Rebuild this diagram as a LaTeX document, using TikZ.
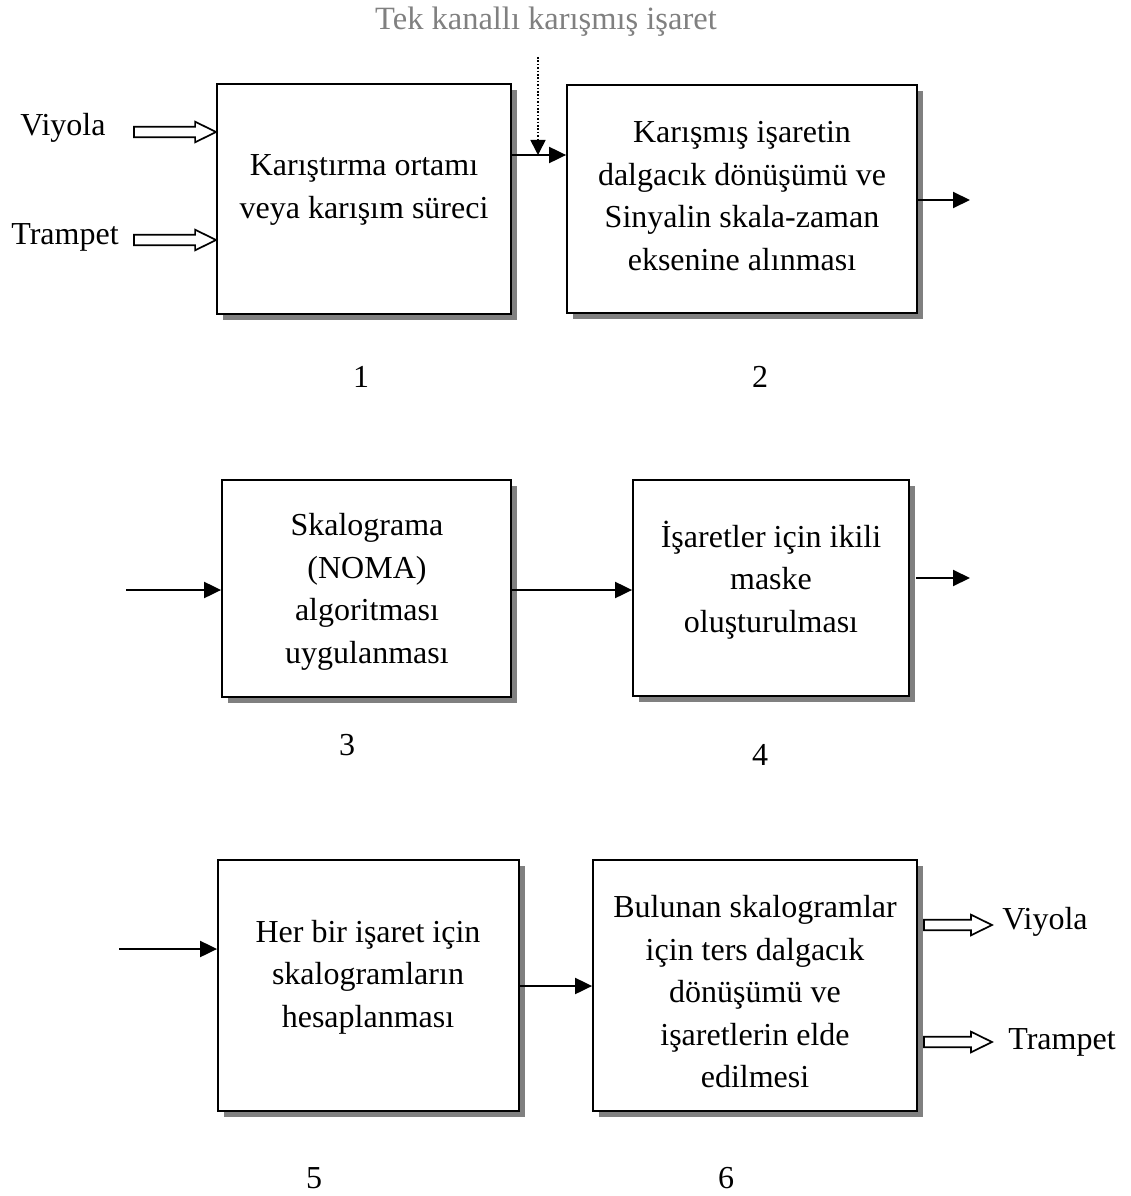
\documentclass[tikz,border=0pt]{standalone}
\usepackage{fontspec}
\setmainfont{Liberation Serif}
\usetikzlibrary{arrows.meta,calc,shadows}
\definecolor{shadowgray}{RGB}{128,128,128}
\definecolor{titlegray}{RGB}{128,128,128}
\newcommand{\fatarrow}[2]{%
  \draw[hollow] ($(#1)+(0,-5.3)$) -- ($(#2)+(-21,-5.3)$) -- ($(#2)+(-21,-10.3)$) -- (#2)
    -- ($(#2)+(-21,10.3)$) -- ($(#2)+(-21,5.3)$) -- ($(#1)+(0,5.3)$) -- cycle;}
\begin{document}
\begin{tikzpicture}[x=1pt,y=-1pt,
  blk/.style={draw, line width=1.8pt, fill=white,
    drop shadow={shadow xshift=6pt, shadow yshift=-6pt, fill=shadowgray, opacity=1}},
  txt/.style={align=center, inner sep=0pt, font=\fontsize{32}{42.5}\selectfont},
  lbl/.style={inner sep=0pt, font=\fontsize{32}{42.5}\selectfont},
  conn/.style={line width=2pt, -{Triangle[length=17pt,width=16pt]}},
  dotconn/.style={line width=1.6pt, dash pattern=on 1.6pt off 1.8pt, -{Triangle[length=15pt,width=15pt]}},
  hollow/.style={draw, line width=1.7pt, fill=white, line join=miter}]
\useasboundingbox (0,0) rectangle (1131,1196);

% title of the mixed input
\node[lbl, text=titlegray, font=\fontsize{32.5}{42.5}\selectfont] (title) at (546,22) {Tek kanallı karışmış işaret};

% processing blocks
\node[blk, minimum width=294pt, minimum height=230pt] (b1) at (364,199) {};
\node[blk, minimum width=350pt, minimum height=228pt] (b2) at (742,199) {};
\node[blk, minimum width=289pt, minimum height=217pt] (b3) at (366.5,588.5) {};
\node[blk, minimum width=276pt, minimum height=216pt] (b4) at (771,588) {};
\node[blk, minimum width=301pt, minimum height=251pt] (b5) at (368.5,985.5) {};
\node[blk, minimum width=324pt, minimum height=251pt] (b6) at (755,985.5) {};

% block texts
\node[txt] (t1) at (364,190) {Karıştırma ortamı\\veya karışım süreci};
\node[txt] (t2) at (742,196) {Karışmış işaretin\\dalgacık dönüşümü ve\\Sinyalin skala-zaman\\eksenine alınması};
\node[txt] (t3) at (367,592) {Skalograma\\(NOMA)\\algoritması\\uygulanması};
\node[txt] (t4) at (771,580) {İşaretler için ikili\\maske\\oluşturulması};
\node[txt] (t5) at (368,977) {Her bir işaret için\\skalogramların\\hesaplanması};
\node[txt] (t6) at (755,992) {Bulunan skalogramlar\\için ters dalgacık\\dönüşümü ve\\işaretlerin elde\\edilmesi};

% step numbers
\node[lbl] (n1) at (361,377) {1};
\node[lbl] (n2) at (760,377) {2};
\node[lbl] (n3) at (347,745) {3};
\node[lbl] (n4) at (760,755) {4};
\node[lbl] (n5) at (314,1178) {5};
\node[lbl] (n6) at (726,1178) {6};

% source and output labels
\node[lbl] (vin) at (63,128) {Viyola};
\node[lbl] (tin) at (65,237) {Trampet};
\node[lbl] (vout) at (1045,922) {Viyola};
\node[lbl] (tout) at (1062,1042) {Trampet};

% hollow arrows for the instrument signals
\coordinate (va) at (134,132);
\coordinate (vb) at ([yshift=67pt]b1.west);
\coordinate (ta) at (134,240);
\coordinate (tb) at ([yshift=-41pt]b1.west);
\coordinate (voa) at ([xshift=6pt,yshift=60.5pt]b6.east);
\coordinate (vob) at (992,925);
\coordinate (toa) at ([xshift=6pt,yshift=-56.5pt]b6.east);
\coordinate (tob) at (992,1042);
\fatarrow{va}{vb}
\fatarrow{ta}{tb}
\fatarrow{voa}{vob}
\fatarrow{toa}{tob}

% signal flow
\coordinate (src) at (538,57);
\coordinate (mix) at (538,155);
\draw[conn] ([yshift=44pt]b1.east) -- ([yshift=44pt]b2.west);
\draw[dotconn] (src) -- (mix);
\coordinate (o2) at (970,200);
\draw[conn] ([yshift=-1pt]b2.east) -- (o2);
\coordinate (i3) at (126,590);
\draw[conn] (i3) -- ([yshift=-1.5pt]b3.west);
\draw[conn] ([yshift=-1.5pt]b3.east) -- ([yshift=-2pt]b4.west);
\coordinate (o4) at (970,578);
\draw[conn] ([xshift=6pt,yshift=10pt]b4.east) -- (o4);
\coordinate (i5) at (119,949);
\draw[conn] (i5) -- ([yshift=36.5pt]b5.west);
\draw[conn] ([yshift=-0.5pt]b5.east) -- ([yshift=-0.5pt]b6.west);
\end{tikzpicture}
\end{document}
